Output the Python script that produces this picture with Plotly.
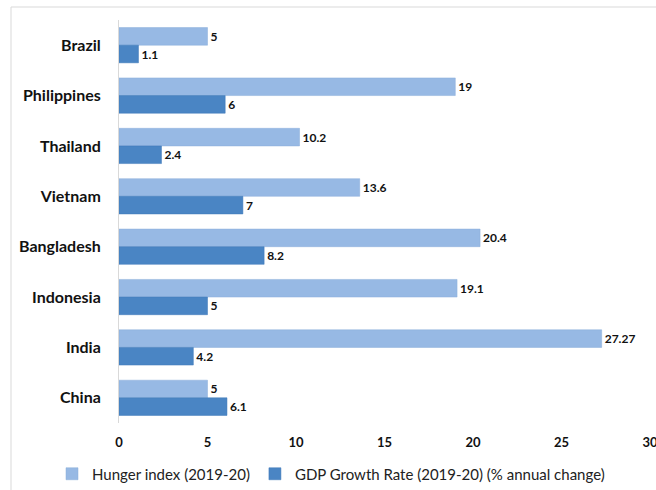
import plotly.graph_objects as go

countries = ["Brazil", "Philippines", "Thailand", "Vietnam", "Bangladesh", "Indonesia", "India", "China"]
hunger_index = [5, 19, 10.2, 13.6, 20.4, 19.1, 27.27, 5]
gdp_growth = [1.1, 6, 2.4, 7, 8.2, 5, 4.2, 6.1]
x_ticks = [0, 5, 10, 15, 20, 25, 30]

FONT = "Lato"
PLOT_L, PLOT_W, PLOT_T, PLOT_H = 119, 531, 20, 403

fig = go.Figure()
fig.add_trace(go.Bar(
    y=countries, x=hunger_index, orientation="h",
    name="Hunger index (2019-20)",
    marker=dict(color="#97b9e4", line=dict(color="#8aaedb", width=0.5)),
    text=[f"{v:g}" for v in hunger_index], textposition="outside",
    textfont=dict(family=FONT, size=12, color="#111111", weight="bold"),
    cliponaxis=False,
))
fig.add_trace(go.Bar(
    y=countries, x=gdp_growth, orientation="h",
    name="GDP Growth Rate (2019-20) (% annual change)",
    marker=dict(color="#4a85c4", line=dict(color="#3f78b8", width=0.5)),
    text=[f"{v:g}" for v in gdp_growth], textposition="outside",
    textfont=dict(family=FONT, size=12, color="#111111", weight="bold"),
    cliponaxis=False,
))

fig.update_layout(
    width=656, height=490,
    margin=dict(l=PLOT_L, r=656 - PLOT_L - PLOT_W, t=PLOT_T, b=490 - PLOT_T - PLOT_H,
                autoexpand=False),
    paper_bgcolor="white", plot_bgcolor="white",
    barmode="group", bargap=0.3, bargroupgap=0,
    font=dict(family=FONT, color="#111111"),
    showlegend=True,
    legend=dict(
        orientation="h", xref="paper", yref="paper",
        x=(52 - PLOT_L) / PLOT_W, xanchor="left",
        y=(PLOT_T + PLOT_H - 474) / PLOT_H, yanchor="middle",
        font=dict(family=FONT, size=15, color="#222222"),
        itemwidth=30, traceorder="normal",
    ),
    xaxis=dict(
        range=[0, 30], tickvals=x_ticks, showgrid=False, zeroline=False,
        showline=False, ticks="", ticklabelstandoff=10,
        ticklabeloverflow="allow", automargin=False,
        tickfont=dict(family=FONT, size=13, color="#111111", weight="bold"),
    ),
    yaxis=dict(
        autorange="reversed", showgrid=False, showline=True, automargin=False,
        linecolor="#d9d9d9", linewidth=1, ticks="", ticklabelstandoff=14,
        tickfont=dict(family=FONT, size=16, color="#111111", weight="bold"),
    ),
    shapes=[dict(
        type="rect", xref="paper", yref="paper",
        x0=(11 - PLOT_L) / PLOT_W, x1=1.05, y0=-0.3, y1=(PLOT_T + PLOT_H - 7) / PLOT_H,
        line=dict(color="#d9d9d9", width=1), fillcolor="rgba(0,0,0,0)", layer="below",
    )],
)

fig.write_html("out.html")
